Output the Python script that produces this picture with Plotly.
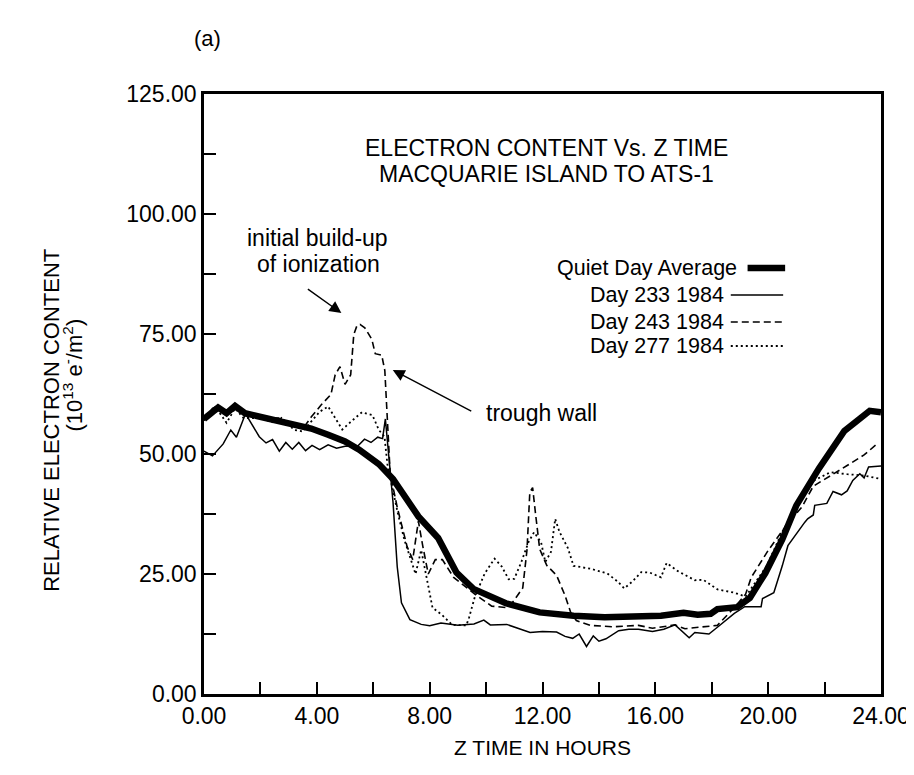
import plotly.graph_objects as go

# ---------------- data ----------------
quiet_h = [0, 0.3, 0.5, 0.8, 1.1, 1.45, 2.0, 2.6, 3.2, 3.8, 4.4, 5.0, 5.5, 6.2, 6.7, 7.6, 8.3, 8.6,
           8.95, 9.55, 10.7, 11.9, 13.1, 14.2, 15.4, 16.2, 17.0, 17.5, 17.96, 18.2, 18.9, 19.35,
           19.9, 20.5, 21.0, 21.8, 22.7, 23.6, 24.0]
quiet_v = [57.3, 59.0, 59.7, 58.5, 60.0, 58.5, 57.8, 56.9, 56.2, 55.3, 54.0, 52.6, 50.9, 47.9, 44.8,
           37.0, 32.5, 29.3, 25.3, 21.9, 18.9, 17.0, 16.3, 16.0, 16.0, 16.3, 16.9, 16.5, 16.7, 17.7,
           18.1, 20.0, 25.2, 32.2, 39.3, 47.0, 54.8, 59.0, 58.7]

d233_h = [0, 0.3, 0.68, 0.95, 1.15, 1.47, 1.96, 2.2, 2.43, 2.67, 2.9, 3.13, 3.36, 3.6, 3.83, 4.1,
          4.4, 4.7, 5.0, 5.46, 5.69, 5.92, 6.16, 6.33, 6.43, 6.55, 6.7, 6.85, 7.0, 7.3, 7.7, 8.0,
          8.4, 9.0, 9.57, 9.92, 10.15, 10.73, 11.2, 11.56, 12.0, 12.5, 12.8, 13.07, 13.3, 13.56,
          13.8, 14.0, 14.25, 14.7, 15.06, 15.4, 15.9, 16.3, 16.7, 17.2, 17.4, 17.9, 18.2, 18.8,
          19.17, 19.75, 19.8, 20.2, 20.5, 20.7, 21.3, 21.4, 21.6, 21.65, 22.08, 22.3, 22.6, 22.8,
          23.0, 23.25, 23.4, 23.56, 24.0]
d233_v = [50.6, 49.6, 52.1, 55.0, 53.5, 58.4, 53.6, 52.3, 53.0, 50.6, 52.4, 51.0, 52.4, 50.7, 51.8,
          50.9, 51.9, 51.2, 51.6, 51.7, 53.1, 52.4, 53.5, 53.2, 57.3, 50.0, 40.0, 26.5, 19.0, 15.5,
          14.5, 14.2, 14.8, 14.3, 14.6, 15.4, 14.4, 14.5, 13.5, 12.8, 13.0, 12.9, 12.0, 11.6, 12.5,
          9.9, 12.1, 11.0, 11.5, 13.2, 13.5, 13.5, 13.0, 13.5, 14.4, 11.7, 12.8, 12.5, 13.9, 16.8,
          18.2, 18.2, 19.9, 21.1, 26.7, 30.9, 35.8, 36.5, 37.3, 39.3, 39.7, 42.2, 41.5, 42.3, 44.5,
          45.9, 45.0, 47.3, 47.5]

d243_h = [0, 0.3, 0.5, 0.8, 1.1, 1.45, 2.0, 2.4, 2.7, 3.0, 3.3, 3.58, 3.8, 4.15, 4.5, 4.65, 4.82,
          4.9, 5.0, 5.2, 5.31, 5.42, 5.53, 5.7, 5.95, 6.07, 6.3, 6.41, 6.49, 6.6, 6.85, 7.2, 7.4,
          7.6, 7.75, 7.95, 8.2, 8.45, 8.6, 8.85, 9.6, 10.2, 10.75, 10.98, 11.3, 11.45, 11.55,
          11.65, 11.75, 11.9, 12.15, 12.5, 12.8, 13.0, 13.2, 13.7, 14.5, 15.4, 15.9, 16.7, 17.05,
          17.6, 18.2, 18.8, 19.2, 19.4, 20.0, 20.6, 21.2, 21.6, 22.2, 22.8, 23.4, 23.9]
d243_v = [57.0, 59.5, 60.0, 58.0, 60.0, 58.0, 58.0, 57.5, 57.5, 56.5, 56.0, 55.9, 57.7, 60.2, 62.4,
          66.5, 68.2, 66.5, 64.5, 66.5, 74.9, 76.7, 77.0, 76.3, 73.9, 70.9, 70.6, 67.4, 57.9, 45.9,
          38.9, 30.7, 28.0, 36.0, 31.0, 25.0, 28.0, 28.0, 26.6, 24.3, 20.8, 18.3, 18.0, 19.4, 22.1,
          30.0, 42.0, 43.0, 37.7, 30.2, 26.8, 24.7, 20.5, 17.0, 15.3, 14.3, 14.0, 14.3, 13.7, 14.4,
          13.6, 14.0, 14.3, 18.0, 20.8, 24.3, 29.9, 34.8, 39.0, 43.3, 45.4, 47.6, 49.8, 52.3]

d277_h = [0, 0.3, 0.5, 0.8, 1.1, 1.4, 2.0, 2.5, 2.75, 3.2, 3.5, 3.7, 4.1, 4.4, 4.9, 5.3, 5.6, 5.97,
          6.2, 6.4, 6.5, 6.62, 6.87, 7.1, 7.3, 7.5, 7.7, 7.9, 8.1, 8.45, 8.8, 9.3, 9.4, 9.6, 9.95,
          10.3, 10.55, 10.8, 11.0, 11.25, 11.5, 11.7, 11.95, 12.1, 12.3, 12.45, 12.6, 12.9, 13.1,
          13.7, 14.3, 14.67, 14.9, 15.2, 15.5, 15.8, 16.2, 16.4, 16.8, 17.4, 17.7, 18.2, 18.8,
          19.2, 19.95, 20.5, 21.1, 21.6, 22.2, 22.8, 23.4, 24.0]
d277_v = [57.0, 58.5, 59.0, 56.5, 59.5, 57.5, 57.5, 56.5, 57.5, 55.0, 54.7, 56.0, 58.8, 59.9, 55.1,
          57.2, 58.7, 58.1, 55.0, 53.6, 47.9, 44.5, 37.7, 32.2, 28.8, 25.0, 30.0, 24.0, 18.0, 16.4,
          14.4, 14.3, 16.0, 20.2, 25.1, 28.2, 26.6, 23.9, 24.0, 27.5, 31.6, 33.7, 31.6, 27.5, 29.6,
          36.5, 33.8, 30.4, 26.7, 26.1, 25.1, 23.4, 22.0, 23.5, 25.4, 25.3, 24.3, 27.3, 25.6, 23.7,
          23.8, 21.8, 21.1, 20.3, 26.7, 33.8, 40.0, 44.4, 46.2, 45.8, 45.5, 44.8]

series_names = ["Quiet Day Average", "Day 233 1984", "Day 243 1984", "Day 277 1984"]
x_ticks = [0, 4, 8, 12, 16, 20, 24]
x_labels = ["0.00", "4.00", "8.00", "12.00", "16.00", "20.00", "24.00"]
x_minor = [2, 6, 10, 14, 18, 22]
y_ticks = [0, 25, 50, 75, 100, 125]
y_labels = ["0.00", "25.00", "50.00", "75.00", "100.00", "125.00"]
y_minor = [12.5, 37.5, 62.5, 87.5, 112.5]

# ---------------- layout helpers (screen pixels; page body adds an 8px offset) ----------------
W, H = 914, 775
OFF = 8
L, R, T, B = 204, 889, 94, 694
FONT = "Liberation Sans, Arial, Helvetica, sans-serif"


def px(x):
    return (x - L) / (R - L)


def py(y):
    return (B - y) / (B - T)


styles = [dict(width=6.5, dash="solid"), dict(width=1.5, dash="solid"),
          dict(width=1.6, dash="7px,4px"), dict(width=1.8, dash="2px,3px")]

fig = go.Figure()
for name, hx, vy, st in zip(series_names, [quiet_h, d233_h, d243_h, d277_h],
                            [quiet_v, d233_v, d243_v, d277_v], styles):
    fig.add_trace(go.Scatter(x=hx, y=vy, mode="lines", name=name, showlegend=False,
                             line=dict(color="black", width=st["width"], dash=st["dash"])))

tick_style = dict(ticks="inside", ticklen=12, tickwidth=2, tickcolor="black")
axis_common = dict(showline=True, linewidth=2.5, linecolor="black", mirror=True,
                   showgrid=False, zeroline=False,
                   tickfont=dict(family=FONT, size=23, color="black"), **tick_style)

fig.update_xaxes(range=[0, 24], tickmode="array", tickvals=x_ticks, ticktext=x_labels,
                 minor=dict(tickvals=x_minor, showgrid=False, **tick_style),
                 title=dict(text="Z TIME IN HOURS", font=dict(family=FONT, size=21, color="black"),
                            standoff=12),
                 **axis_common)
fig.update_yaxes(range=[0, 125], tickmode="array", tickvals=y_ticks, ticktext=y_labels,
                 minor=dict(tickvals=y_minor, showgrid=False, **tick_style),
                 **axis_common)


def text_ann(text, x, y, size, xanchor="center", angle=0):
    return dict(text=text, x=px(x), y=py(y), xref="paper", yref="paper", showarrow=False,
                xanchor=xanchor, yanchor="middle", textangle=angle,
                font=dict(family=FONT, size=size, color="black"))


ann = [
    text_ann("(a)", 208, 38, 22),
    text_ann("RELATIVE ELECTRON CONTENT", 49, 420, 22, angle=-90),
    text_ann("(10<sup>13</sup> e<sup>-</sup>/m<sup>2</sup>)", 71, 375, 22, angle=-90),
    text_ann("ELECTRON CONTENT Vs. Z TIME", 551, 148, 23),
    text_ann("MACQUARIE ISLAND TO ATS-1", 551, 174, 23),
    text_ann("initial build-up", 319, 238, 23),
    text_ann("of ionization", 320, 264, 23),
    text_ann("trough wall", 487, 413, 23, xanchor="left"),
]
# arrows (head at x,y; tail offset ax, ay in pixels)
for (hx_, hy_), (tx_, ty_) in [((343, 313), (308, 288)), ((395, 370), (475, 412))]:
    ann.append(dict(text="", x=px(hx_), y=py(hy_), xref="paper", yref="paper", showarrow=True,
                    ax=tx_ - hx_, ay=ty_ - hy_, arrowhead=2, arrowsize=1.7, arrowwidth=1.4,
                    arrowcolor="black", standoff=0, startstandoff=0))

# legend (text right-aligned, line sample to the right)
leg_y = [268, 295, 322, 346]
leg_text_right = [745, 732, 732, 732]
leg_line = [(754, 792), (737, 790), (737, 790), (737, 790)]
shapes = []
for name, yy, xr, (x0, x1), st in zip(series_names, leg_y, leg_text_right, leg_line, styles):
    ann.append(text_ann(name, xr, yy, 21.5, xanchor="right"))
    shapes.append(dict(type="line", xref="paper", yref="paper", x0=px(x0), x1=px(x1),
                       y0=py(yy), y1=py(yy),
                       line=dict(color="black", width=st["width"], dash=st["dash"])))

fig.update_layout(width=W, height=H,
                  margin=dict(l=L - OFF, r=W - (R - OFF), t=T - OFF, b=H - (B - OFF)),
                  paper_bgcolor="white", plot_bgcolor="white",
                  annotations=ann, shapes=shapes, font=dict(family=FONT, color="black"))

fig.write_html("out.html")
